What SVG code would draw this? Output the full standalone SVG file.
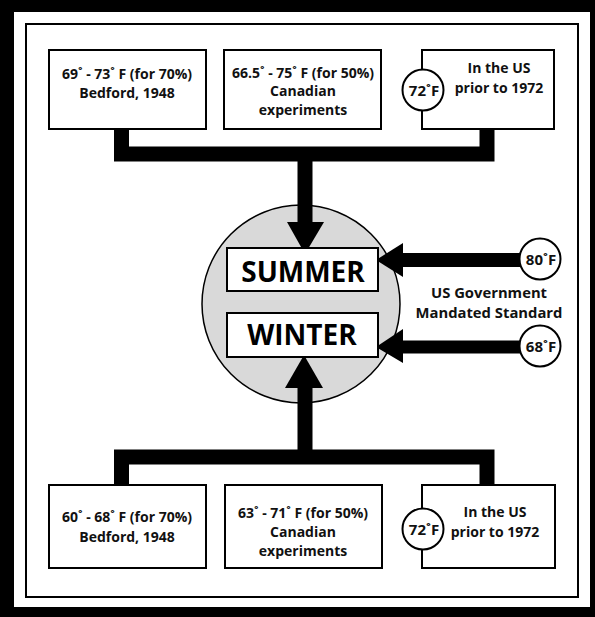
<svg xmlns="http://www.w3.org/2000/svg" width="595" height="617" viewBox="0 0 595 617">
<style>
.box{fill:#fff;stroke:#000;stroke-width:2}
.t{font-family:"Open Sans","Noto Sans",sans-serif;font-weight:bold;font-size:14px;fill:#111;text-anchor:middle}
.bt{font-family:"Open Sans","Noto Sans",sans-serif;font-weight:bold;font-size:15px;fill:#111;text-anchor:middle}
.lab{font-family:"Open Sans","Noto Sans",sans-serif;font-weight:bold;font-size:14.8px;fill:#111;text-anchor:middle}
.big{font-family:"Open Sans","Noto Sans",sans-serif;font-weight:bold;font-size:28px;fill:#000;text-anchor:middle}
.badge{fill:#fff;stroke:#000;stroke-width:2}
.bar{fill:none;stroke:#000;stroke-width:15;stroke-linejoin:miter;stroke-linecap:butt}
.head{fill:#000}
</style>
<rect x="0" y="0" width="595" height="617" fill="#000"/>
<rect x="14" y="12" width="576" height="595" fill="#fff"/>
<rect x="26" y="24" width="552" height="573" fill="none" stroke="#000" stroke-width="2"/>

<g id="center">
<circle cx="301" cy="304" r="99" fill="#d9d9d9" stroke="#000" stroke-width="1.5"/>
</g>

<g id="connectors">
<path class="bar" d="M121.5,118 V154 H487 V117"/>
<path class="bar" d="M305,154 V224"/>
<polygon class="head" points="287,222 324,222 305,254"/>
<path class="bar" d="M121.5,494 V457 H487 V493"/>
<path class="bar" d="M305,457 V386"/>
<polygon class="head" points="285,388 323,388 304,355"/>
<path class="bar" d="M520,260 H400" style="stroke-width:14"/>
<polygon class="head" points="403,243 403,277 376,260"/>
<path class="bar" d="M520,347 H400" style="stroke-width:13"/>
<polygon class="head" points="403,329 403,363 376,347"/>
</g>

<g id="top1">
<rect class="box" x="49" y="50" width="157" height="79"/>
<text class="t" x="127" y="79">69˚ - 73˚ F (for 70%)</text>
<text class="t" x="127" y="98">Bedford, 1948</text>
</g>
<g id="top2">
<rect class="box" x="224" y="50" width="157" height="79"/>
<text class="t" x="303" y="78">66.5˚ - 75˚ F (for 50%)</text>
<text class="t" x="303" y="96">Canadian</text>
<text class="t" x="303" y="115">experiments</text>
</g>
<g id="top3">
<rect class="box" x="422" y="50" width="132" height="79"/>
<circle class="badge" cx="423" cy="90" r="20.5"/>
<text class="bt" x="424" y="95.5">72˚F</text>
<text class="t" x="499" y="73">In the US</text>
<text class="t" x="499" y="93">prior to 1972</text>
</g>

<g id="summer">
<rect class="box" x="227" y="248" width="151" height="43"/>
<text class="big" x="303" y="282">SUMMER</text>
</g>
<g id="winter">
<rect class="box" x="227" y="313" width="151" height="44"/>
<text class="big" x="302" y="345">WINTER</text>
</g>

<g id="std80">
<circle class="badge" cx="540" cy="259" r="20.5"/>
<text class="bt" x="541" y="264.5">80˚F</text>
</g>
<g id="std68">
<circle class="badge" cx="540" cy="346" r="20.5"/>
<text class="bt" x="541" y="351.5">68˚F</text>
</g>
<g id="stdlabel">
<text class="lab" x="489" y="297.5">US Government</text>
<text class="lab" x="489" y="318">Mandated Standard</text>
</g>

<g id="bot1">
<rect class="box" x="49" y="485" width="157" height="83"/>
<text class="t" x="127" y="522">60˚ - 68˚ F (for 70%)</text>
<text class="t" x="127" y="542">Bedford, 1948</text>
</g>
<g id="bot2">
<rect class="box" x="225" y="485" width="157" height="83"/>
<text class="t" x="303" y="518">63˚ - 71˚ F (for 50%)</text>
<text class="t" x="303" y="537">Canadian</text>
<text class="t" x="303" y="556">experiments</text>
</g>
<g id="bot3">
<rect class="box" x="422" y="485" width="133" height="83"/>
<circle class="badge" cx="423" cy="529" r="20.5"/>
<text class="bt" x="424" y="534.5">72˚F</text>
<text class="t" x="495" y="517">In the US</text>
<text class="t" x="495" y="537">prior to 1972</text>
</g>
</svg>
